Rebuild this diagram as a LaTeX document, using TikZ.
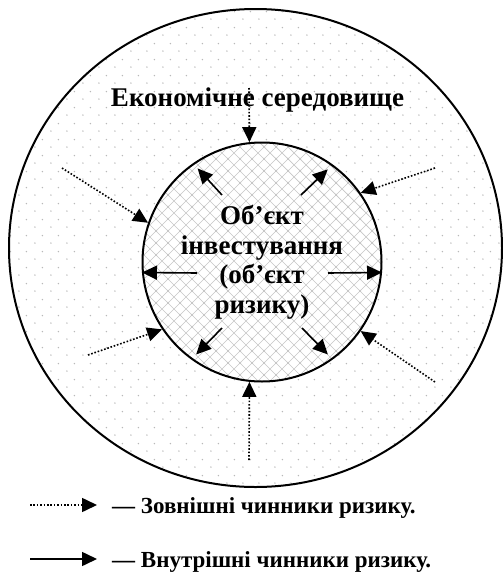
\documentclass[tikz,border=0pt]{standalone}
\usepackage{fontspec}
\setmainfont{Liberation Serif}
\usetikzlibrary{arrows.meta,patterns.meta}

% dotted background of the environment ring
\pgfdeclarepattern{name=envdots, type=uncolored,
  bottom left={\pgfpoint{0pt}{0pt}}, top right={\pgfpoint{15.5pt}{15.5pt}},
  tile size={\pgfpoint{15.5pt}{15.5pt}},
  code={\pgfpathcircle{\pgfpoint{3pt}{3pt}}{0.8pt}
        \pgfpathcircle{\pgfpoint{10.75pt}{10.75pt}}{0.8pt}
        \pgfusepath{fill}}}
% diagonal cross hatch of the object
\pgfdeclarepattern{name=objhatch, type=uncolored,
  bottom left={\pgfpoint{-1pt}{-1pt}}, top right={\pgfpoint{13pt}{13pt}},
  tile size={\pgfpoint{12pt}{12pt}},
  code={\pgfsetlinewidth{0.7pt}
        \pgfpathmoveto{\pgfpoint{-1pt}{-1pt}}\pgfpathlineto{\pgfpoint{13pt}{13pt}}
        \pgfpathmoveto{\pgfpoint{-1pt}{13pt}}\pgfpathlineto{\pgfpoint{13pt}{-1pt}}
        \pgfusepath{stroke}}}

\begin{document}
\begin{tikzpicture}[x=1pt,y=-1pt,>={Triangle[length=15pt,width=14pt]},
  ext/.style={->,line width=1.6pt,dash pattern=on 1.6pt off 1.8pt},
  int/.style={->,line width=1.6pt},
  txt/.style={font=\fontsize{27}{29.5}\selectfont\bfseries,align=center},
  lgd/.style={font=\fontsize{23}{28}\selectfont\bfseries,anchor=base west,inner sep=0pt}]
  \useasboundingbox (0,0) rectangle (503,579);
  \draw[line width=2pt,pattern=envdots,pattern color=gray!55] (255.5,248) ellipse [x radius=246.5,y radius=239];
  \node[circle,draw,line width=2pt,preaction={fill=white},pattern=objhatch,pattern color=gray!45,
    minimum size=239pt,inner sep=0pt,txt] (obj) at (262,262) {Об’єкт\\інвестування\\(об’єкт\\ризику)};
  \node[txt,anchor=base] (env) at (257.5,106) {Економічне середовище};
  % external factors
  \coordinate (e1) at (249,88);
  \coordinate (e2) at (62,168);
  \coordinate (e3) at (435,168);
  \coordinate (e4) at (88,355);
  \coordinate (e5) at (435,382);
  \coordinate (e6) at (249,460);
  \draw[ext] (e1) -- (obj.96);
  \draw[ext] (e2) -- (obj.161);
  \draw[ext] (e3) -- (obj.35);
  \draw[ext] (e4) -- (obj.214);
  \draw[ext] (e5) -- (obj.325);
  \draw[ext] (e6) -- (obj.264);
  % internal factors
  \coordinate (i1) at (222,195);
  \coordinate (i2) at (301,195);
  \coordinate (i3) at (197,273);
  \coordinate (i4) at (328,273);
  \coordinate (i5) at (222,328);
  \coordinate (i6) at (302,328);
  \draw[int,shorten >=7pt] (i1) -- (obj.125);
  \draw[int,shorten >=7pt] (i2) -- (obj.54);
  \draw[int] (i3) -- (obj.185);
  \draw[int] (i4) -- (obj.355);
  \draw[int,shorten >=7pt] (i5) -- (obj.234);
  \draw[int,shorten >=7pt] (i6) -- (obj.306);
  % legend
  \node[lgd] (lg1) at (112,513) {— Зовнішні чинники ризику.};
  \node[lgd] (lg2) at (112,567) {— Внутрішні чинники ризику.};
  \coordinate (l1) at (30,505);
  \coordinate (l2) at (30,559);
  \draw[ext] (l1) -- ([xshift=-15pt]lg1.west |- l1);
  \draw[int] (l2) -- ([xshift=-15pt]lg2.west |- l2);
\end{tikzpicture}
\end{document}
